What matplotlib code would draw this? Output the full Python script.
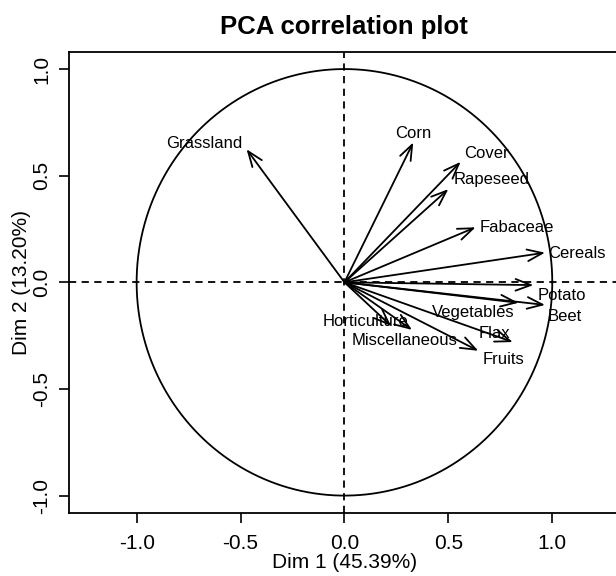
import numpy as np
import matplotlib
matplotlib.use("Agg")
import matplotlib.pyplot as plt

plt.rcParams['font.family'] = ['Liberation Sans', 'DejaVu Sans']

# Variable coordinates on the first two principal dimensions
variables = ["Grassland", "Corn", "Cover", "Rapeseed", "Fabaceae", "Cereals",
             "Potato", "Beet", "Vegetables", "Flax", "Horticulture",
             "Miscellaneous", "Fruits"]
dim1 = [-0.471, 0.331, 0.559, 0.500, 0.631, 0.965,
        0.909, 0.965, 0.837, 0.810, 0.325, 0.225, 0.644]
dim2 = [0.624, 0.656, 0.565, 0.437, 0.258, 0.139,
        -0.013, -0.106, -0.096, -0.280, -0.223, -0.205, -0.321]

# Label placement (data units) chosen to avoid overlaps
label_xy = [(-0.675, 0.653), (0.330, 0.696), (0.681, 0.606), (0.710, 0.484),
            (0.830, 0.255), (1.119, 0.137), (1.047, -0.064), (1.061, -0.158),
            (0.618, -0.140), (0.724, -0.238), (0.099, -0.186),
            (0.291, -0.275), (0.763, -0.364)]

x_ticks = [-1.0, -0.5, 0.0, 0.5, 1.0]
y_ticks = [-1.0, -0.5, 0.0, 0.5, 1.0]
explained = [45.39, 13.20]

fig = plt.figure(figsize=(6.16, 5.76), dpi=100)
ax = fig.add_axes([69.3 / 616, (576 - 513.3) / 576,
                   (619.6 - 69.3) / 616, (513.3 - 52) / 576])
ax.set_xlim(-1.324, 1.324)
ax.set_ylim(-1.083, 1.080)

# unit circle
t = np.linspace(0, 2 * np.pi, 400)
ax.plot(np.cos(t), np.sin(t), color="black", lw=1.3)

# reference axes
ax.axhline(0, color="black", lw=1.3, ls=(0, (4, 3)))
ax.axvline(0, color="black", lw=1.3, ls=(0, (4, 3)))

for name, x, y, (lx, ly) in zip(variables, dim1, dim2, label_xy):
    ax.annotate("", xy=(x, y), xytext=(0, 0),
                arrowprops=dict(arrowstyle="->,head_length=1.1,head_width=0.42",
                                color="black", lw=1.3,
                                shrinkA=0, shrinkB=0))
    ax.text(lx, ly, name, ha="center", va="center", fontsize=12)

ax.set_xticks(x_ticks)
ax.set_yticks(y_ticks)
ax.set_xticklabels([f"{v:.1f}" for v in x_ticks], fontsize=15)
ax.set_yticklabels([f"{v:.1f}" for v in y_ticks], fontsize=15,
                   rotation=90, va="center")
ax.tick_params(axis="x", direction="out", length=7, width=1.2, pad=8)
ax.tick_params(axis="y", direction="out", length=7, width=1.2, pad=6)
for s in ax.spines.values():
    s.set_linewidth(1.3)

ax.set_xlabel(f"Dim 1 ({explained[0]:.2f}%)", fontsize=15, labelpad=0)
ax.set_ylabel(f"Dim 2 ({explained[1]:.2f}%)", fontsize=15, labelpad=1)
fig.text(344 / 616, 1 - 27 / 576, "PCA correlation plot", ha="center",
         va="center", fontsize=18.5, fontweight="bold")

fig.savefig("out.png", dpi=100)
